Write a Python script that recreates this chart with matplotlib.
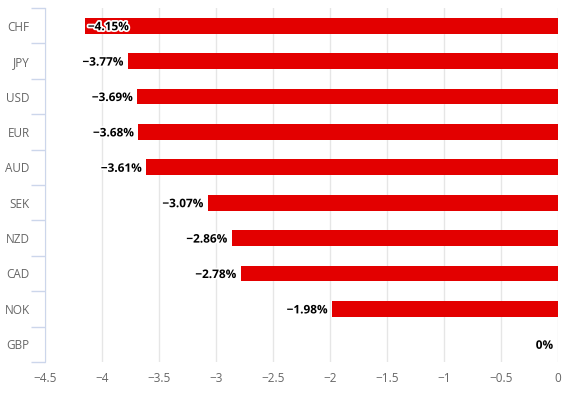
import matplotlib
matplotlib.use("Agg")
import matplotlib.pyplot as plt
import matplotlib.patheffects as pe
from matplotlib.transforms import offset_copy

categories = ["CHF", "JPY", "USD", "EUR", "AUD", "SEK", "NZD", "CAD", "NOK", "GBP"]
values = [-4.15, -3.77, -3.69, -3.68, -3.61, -3.07, -2.86, -2.78, -1.98, 0.0]
xticks = [-4.5, -4, -3.5, -3, -2.5, -2, -1.5, -1, -0.5, 0]
xticklabels = ["\u22124.5", "\u22124", "\u22123.5", "\u22123", "\u22122.5", "\u22122", "\u22121.5", "\u22121", "\u22120.5", "0"]

plt.rcParams['font.family'] = ['Open Sans', 'DejaVu Sans']
fig = plt.figure(figsize=(5.65, 3.99), dpi=100)
ax = fig.add_axes([45/565, 1-362/399, 513/565, 354/399])

n = len(categories)
ypos = list(range(n))
ax.barh(ypos, values, height=0.45, color="#e30000", zorder=3)
ax.set_ylim(n - 0.5, -0.5)
ax.set_xlim(-4.5, 0)

ax.set_xticks(xticks)
ax.set_xticklabels(xticklabels)
ax.set_yticks(ypos)
ax.set_yticklabels(categories)
ax.set_yticks([i - 0.5 for i in range(n + 1)], minor=True)

ax.grid(axis="x", color="#e6e6e6", linewidth=1, zorder=0)
ax.tick_params(axis="x", length=0, labelsize=8.5, labelcolor="#666666", pad=7)
ax.tick_params(axis="y", which="major", length=0, labelsize=8.5, labelcolor="#666666", pad=11)
ax.tick_params(axis="y", which="minor", length=10, color="#ccd6eb", width=1)
for lbl in ax.get_yticklabels():
    lbl.set_y(lbl.get_position()[1])
for s in ["top", "right", "bottom"]:
    ax.spines[s].set_visible(False)
ax.spines["left"].set_color("#ccd6eb")

outline = [pe.withStroke(linewidth=2.5, foreground="white")]
for i, v in enumerate(values):
    label = ("\u2212%.2f%%" % abs(v)) if v != 0 else "0%"
    if v < -4.0:
        tr = offset_copy(ax.transData, fig=fig, x=3, y=-1, units="dots")
        ax.text(v, i, label, ha="left", va="center", fontsize=8.5, fontweight="bold",
                color="black", transform=tr, path_effects=outline, zorder=5)
    else:
        tr = offset_copy(ax.transData, fig=fig, x=-5, y=-1, units="dots")
        ax.text(v, i, label, ha="right", va="center", fontsize=8.5, fontweight="bold",
                color="black", transform=tr, path_effects=outline, zorder=5)

fig.savefig("out.png", dpi=100)
